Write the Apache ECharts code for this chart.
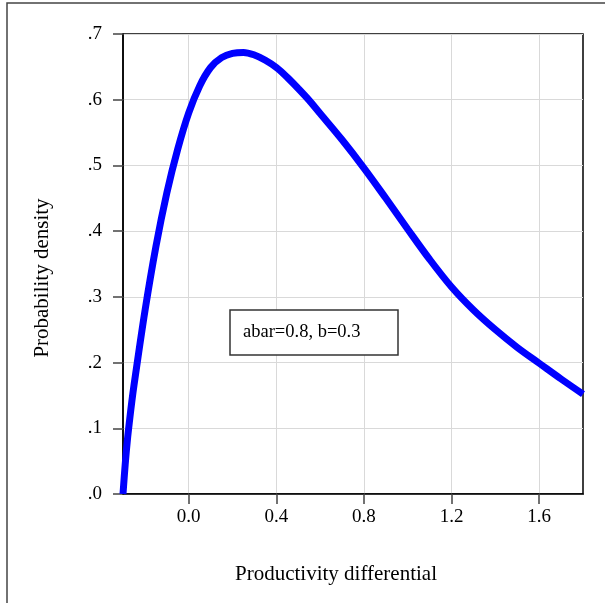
<!DOCTYPE html>
<html>
<head>
<meta charset="utf-8">
<script src="https://cdn.jsdelivr.net/npm/echarts@6/dist/echarts.min.js"></script>
<style>
  html, body { margin: 0; padding: 0; background: #fff; }
  #chart { width: 605px; height: 603px; }
</style>
</head>
<body>
<div id="chart"></div>
<script>
// density curve
var xValues = [-0.3, -0.29, -0.28, -0.27, -0.26, -0.25, -0.2, -0.15, -0.1, -0.05, 0.0, 0.05, 0.1, 0.15, 0.2, 0.25, 0.3, 0.35, 0.4, 0.45, 0.5, 0.55, 0.6, 0.7, 0.8, 0.9, 1.0, 1.1, 1.2, 1.3, 1.4, 1.5, 1.6, 1.7, 1.8];
var density = [0.0, 0.045, 0.082, 0.112, 0.14, 0.165, 0.278, 0.376, 0.458, 0.525, 0.58, 0.621, 0.649, 0.664, 0.6705, 0.672, 0.668, 0.66, 0.649, 0.634, 0.617, 0.599, 0.579, 0.539, 0.496, 0.45, 0.403, 0.357, 0.315, 0.28, 0.25, 0.223, 0.199, 0.175, 0.152];
var xTicks = [0.0, 0.4, 0.8, 1.2, 1.6];
var noteText = 'abar=0.8, b=0.3';

var font = 'Liberation Serif';
var points = xValues.map(function (x, i) { return [x, density[i]]; });

var chart = echarts.init(document.getElementById('chart'), null, { renderer: 'canvas' });
chart.setOption({
    animation: false,
    backgroundColor: '#fff',
    grid: {
        left: 123, right: 22, top: 34, bottom: 109,
        show: true, borderColor: '#000', borderWidth: 1.5
    },
    xAxis: {
        type: 'value',
        min: -0.3,
        max: 1.8,
        name: 'Productivity differential',
        nameLocation: 'middle',
        nameGap: 70,
        nameTextStyle: { fontFamily: font, fontSize: 21, color: '#000', padding: [0, 34, 0, 0] },
        axisLine: { onZero: false, lineStyle: { color: '#000', width: 1.5 } },
        axisTick: { customValues: xTicks, length: 10, lineStyle: { color: '#444', width: 1.5 } },
        axisLabel: {
            customValues: xTicks,
            margin: 14,
            fontFamily: font, fontSize: 19, color: '#000',
            formatter: function (v) { return v.toFixed(1); }
        },
        splitLine: { show: true, lineStyle: { color: '#d9d9d9', width: 1 } }
    },
    yAxis: {
        type: 'value',
        min: 0,
        max: 0.7,
        interval: 0.1,
        name: 'Probability density',
        nameLocation: 'middle',
        nameGap: 70,
        nameTextStyle: { fontFamily: font, fontSize: 21, color: '#000', padding: [0, 28, 0, 0] },
        axisLine: { show: true, onZero: false, lineStyle: { color: '#000', width: 1.5 } },
        axisTick: { show: true, length: 10, lineStyle: { color: '#444', width: 1.5 } },
        axisLabel: {
            margin: 21,
            fontFamily: font, fontSize: 19, color: '#000',
            formatter: function (v) { return v.toFixed(1).replace(/^0/, ''); }
        },
        splitLine: { show: true, lineStyle: { color: '#d9d9d9', width: 1 } }
    },
    series: [{
        type: 'line',
        data: points,
        smooth: 0.35,
        showSymbol: false,
        clip: true,
        lineStyle: { color: '#0000ff', width: 7 }
    }],
    graphic: [
        {
            type: 'rect',
            shape: { x: 7, y: 3, width: 700, height: 700 },
            style: { fill: 'none', stroke: '#444', lineWidth: 1.5 },
            silent: true
        },
        {
            type: 'rect',
            shape: { x: 230, y: 310, width: 168, height: 45 },
            style: { fill: '#fff', stroke: '#333', lineWidth: 1.5 },
            z: 10
        },
        {
            type: 'text',
            x: 243, y: 332,
            z: 11,
            style: {
                text: noteText,
                font: '18.5px "Liberation Serif"',
                fill: '#000',
                verticalAlign: 'middle'
            }
        }
    ]
});
</script>
</body>
</html>
